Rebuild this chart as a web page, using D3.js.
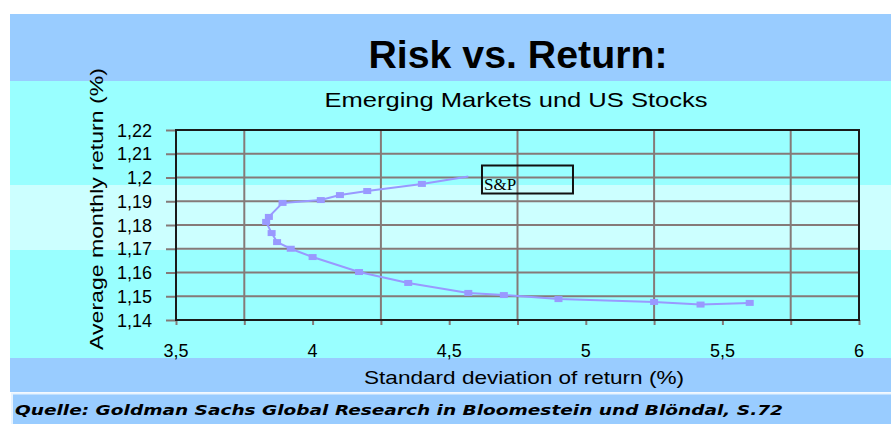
<!DOCTYPE html>
<html>
<head>
<meta charset="utf-8">
<script src="https://cdn.jsdelivr.net/npm/d3@7"></script>
<style>
    body { margin: 0; background: #fff; }
    svg { display: block; }
    text { font-family: "Liberation Sans", Arial, sans-serif; fill: #000; }
</style>
</head>
<body>
<div id="chart"></div>
<script>
"use strict";

// efficient frontier
const risk = [4.57, 4.40, 4.20, 4.10, 4.03, 3.89, 3.84, 3.83, 3.85, 3.87, 3.92, 4.00, 4.17, 4.35, 4.57, 4.70, 4.90, 5.25, 5.42, 5.60];
const ret  = [1.2004, 1.1973, 1.1943, 1.1926, 1.1905, 1.1893, 1.1834, 1.1813, 1.1766, 1.1728, 1.1700, 1.1665, 1.1602, 1.1556, 1.1514, 1.1505, 1.1488, 1.1476, 1.1465, 1.1472];

const xTicks = [3.5, 4, 4.5, 5, 5.5, 6];
const xMinorTicks = [3.75, 4.25, 4.75, 5.25, 5.75];
const yTicks = [1.14, 1.15, 1.16, 1.17, 1.18, 1.19, 1.2, 1.21, 1.22];

const labelText = "S&P";
const labelAt = { x: 4.62, y: 1.2 };

const W = 891, H = 424;
const plot = { left: 176, right: 859, top: 130, bottom: 320 };

const de = d3.formatLocale({ decimal: ",", thousands: ".", grouping: [3], currency: ["", " €"] });
const fmt = v => de.format("~g")(v);

const svg = d3.select("#chart").append("svg").attr("width", W).attr("height", H);

// background bands
svg.append("rect").attr("x", 10).attr("y", 14).attr("width", W - 10).attr("height", 67).attr("fill", "#99ccff");
svg.append("rect").attr("x", 10).attr("y", 81).attr("width", W - 10).attr("height", 277).attr("fill", "#99ffff");
svg.append("rect").attr("x", 10).attr("y", 185).attr("width", W - 10).attr("height", 65).attr("fill", "#ccffff");
svg.append("rect").attr("x", 10).attr("y", 358).attr("width", W - 10).attr("height", 34).attr("fill", "#99ccff");
svg.append("rect").attr("x", 12).attr("y", 393.5).attr("width", W - 10).attr("height", 40)
    .attr("fill", "#99ccff").attr("stroke", "#e8f4ff").attr("stroke-width", 2);

const x = d3.scaleLinear().domain([3.5, 6]).range([plot.left, plot.right]);
const y = d3.scaleLinear().domain([1.14, 1.22]).range([plot.bottom, plot.top]);

// gridlines
const grid = svg.append("g").attr("stroke", "#857a78").attr("stroke-width", 2);
grid.selectAll(".hg").data(yTicks).enter().append("line")
    .attr("x1", plot.left).attr("x2", plot.right)
    .attr("y1", d => y(d)).attr("y2", d => y(d));
grid.selectAll(".vg").data(xMinorTicks).enter().append("line")
    .attr("y1", plot.top).attr("y2", plot.bottom)
    .attr("x1", d => x(d)).attr("x2", d => x(d));

// axes
const xAxis = svg.append("g").attr("transform", `translate(0,${plot.bottom})`)
    .call(d3.axisBottom(x).tickValues(xTicks.concat(xMinorTicks)).tickSize(5).tickFormat(""));
xAxis.select(".domain").remove();
xAxis.selectAll("line").attr("stroke", "#857a78").attr("stroke-width", 2);

const yAxis = svg.append("g").attr("transform", `translate(${plot.left},0)`)
    .call(d3.axisLeft(y).tickValues(yTicks).tickSize(10).tickFormat(""));
yAxis.select(".domain").remove();
yAxis.selectAll("line").attr("stroke", "#857a78").attr("stroke-width", 2);

svg.append("rect")
    .attr("x", plot.left).attr("y", plot.top)
    .attr("width", plot.right - plot.left).attr("height", plot.bottom - plot.top)
    .attr("fill", "none").attr("stroke", "#1a1a1a").attr("stroke-width", 2);

svg.append("g").selectAll("text").data(xTicks).enter().append("text")
    .attr("x", d => x(d)).attr("y", 357)
    .attr("text-anchor", "middle").attr("font-size", 18)
    .text(d => fmt(d));

svg.append("g").selectAll("text").data(yTicks).enter().append("text")
    .attr("x", plot.left - 24).attr("y", d => y(d) + 6.5)
    .attr("text-anchor", "end").attr("font-size", 18)
    .text(d => fmt(d));

// the frontier
const pts = risk.map((r, i) => ({ x: r, y: ret[i] }));
svg.append("path").datum(pts)
    .attr("fill", "none").attr("stroke", "#9999ff").attr("stroke-width", 2)
    .attr("d", d3.line().x(d => x(d.x)).y(d => y(d.y)));
svg.append("g").selectAll("rect").data(pts.slice(1)).enter().append("rect")
    .attr("x", d => x(d.x) - 4).attr("y", d => y(d.y) - 3)
    .attr("width", 8).attr("height", 6).attr("fill", "#9999ff");

// S&P label
svg.append("rect")
    .attr("x", x(labelAt.x)).attr("y", y(labelAt.y) - 12)
    .attr("width", 91).attr("height", 28)
    .attr("fill", "none").attr("stroke", "#111").attr("stroke-width", 2);
svg.append("text")
    .attr("x", x(labelAt.x) + 2).attr("y", y(labelAt.y) + 12)
    .attr("font-family", "'Liberation Serif', 'Times New Roman', serif")
    .style("font-family", "'Liberation Serif', serif")
    .attr("font-size", 17)
    .text(labelText);

// titles
svg.append("text").attr("x", 518).attr("y", 68).attr("text-anchor", "middle")
    .attr("font-size", 38).attr("font-weight", "bold")
    .attr("textLength", 299).attr("lengthAdjust", "spacingAndGlyphs")
    .text("Risk vs. Return:");
svg.append("text").attr("x", 516).attr("y", 107).attr("text-anchor", "middle")
    .attr("font-size", 21)
    .attr("textLength", 383).attr("lengthAdjust", "spacingAndGlyphs")
    .text("Emerging Markets und US Stocks");
svg.append("text").attr("x", 524).attr("y", 384).attr("text-anchor", "middle")
    .attr("font-size", 19)
    .attr("textLength", 320).attr("lengthAdjust", "spacingAndGlyphs")
    .text("Standard deviation of return (%)");
svg.append("text").attr("transform", "translate(103,209) rotate(-90)").attr("text-anchor", "middle")
    .attr("font-size", 19)
    .attr("textLength", 282).attr("lengthAdjust", "spacingAndGlyphs")
    .text("Average monthly return (%)");
svg.append("text").attr("x", 15).attr("y", 415)
    .style("font-family", "'DejaVu Sans', Verdana, sans-serif")
    .attr("font-size", 14).attr("font-weight", "bold").attr("font-style", "italic")
    .attr("textLength", 768).attr("lengthAdjust", "spacingAndGlyphs")
    .text("Quelle: Goldman Sachs Global Research in Bloomestein und Blöndal, S.72");
</script>
</body>
</html>
